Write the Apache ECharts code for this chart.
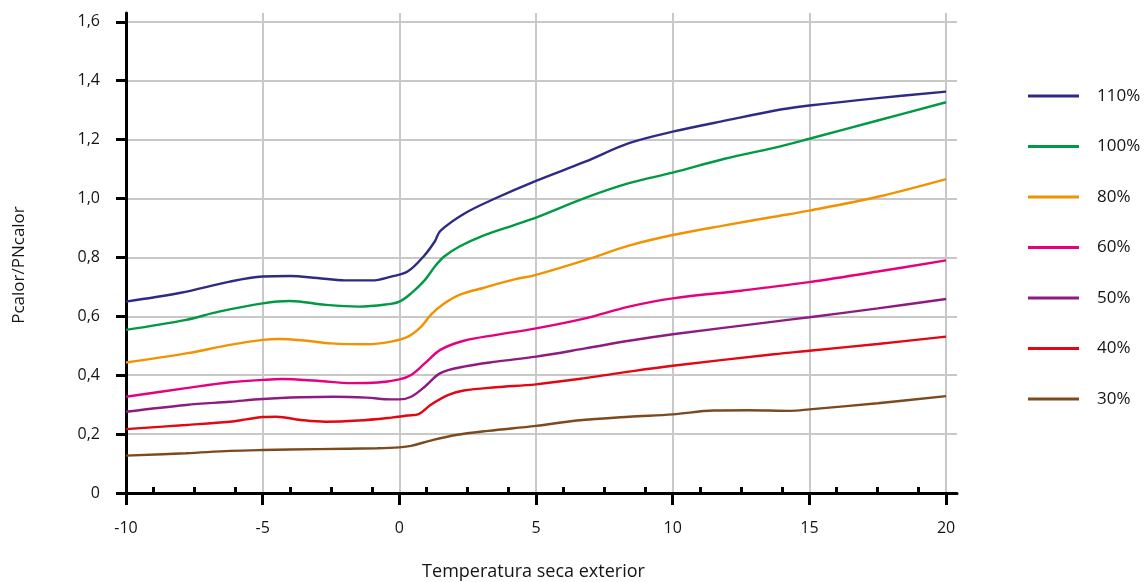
<!DOCTYPE html>
<html>
<head>
<meta charset="utf-8">
<script src="https://cdn.jsdelivr.net/npm/echarts@6/dist/echarts.min.js"></script>
<style>
  html, body { margin: 0; padding: 0; background: #fff; }
  #chart { width: 1146px; height: 582px; }
</style>
</head>
<body>
<div id="chart"></div>
<script>
// ---- data (x = outdoor dry temperature, y = Pcalor/PNcalor) ----
const seriesNames = ['110%', '100%', '80%', '60%', '50%', '40%', '30%'];
const seriesColors = ['#2e2a85', '#009a44', '#f39200', '#e6007e', '#8e1c80', '#e30613', '#7c4a1e'];

const s110 = [[-10,0.650],[-8,0.680],[-6.2,0.718],[-5,0.735],[-4,0.737],[-3,0.730],[-2,0.722],[-1,0.722],[-0.3,0.735],[0.3,0.752],[0.9,0.805],[1.3,0.855],[1.5,0.890],[2.4,0.950],[3.5,1.000],[5,1.060],[6.8,1.125],[8.4,1.188],[10,1.227],[12,1.266],[14,1.303],[15,1.316],[17.5,1.341],[20,1.363]];
const s100 = [[-10,0.554],[-7.8,0.588],[-6.6,0.616],[-5,0.644],[-4,0.652],[-2.7,0.639],[-1.5,0.633],[-0.5,0.640],[0,0.650],[0.43,0.678],[0.93,0.723],[1.3,0.769],[1.64,0.803],[2.2,0.837],[3.07,0.874],[4.2,0.910],[5,0.935],[6.8,1.002],[8.4,1.052],[10,1.088],[11.9,1.135],[13.7,1.172],[15,1.203],[17.5,1.265],[20,1.327]];
const s80  = [[-10,0.443],[-7.8,0.474],[-6.2,0.503],[-5,0.520],[-4.4,0.523],[-3.4,0.517],[-2.5,0.508],[-1.2,0.505],[-0.3,0.514],[0.3,0.530],[0.8,0.565],[1.15,0.605],[1.65,0.644],[2.2,0.673],[3.1,0.697],[4.25,0.726],[5,0.741],[6.8,0.791],[8.4,0.840],[10,0.876],[11.9,0.909],[13.7,0.938],[15,0.959],[17.5,1.006],[20,1.066]];
const s60  = [[-10,0.327],[-7.8,0.356],[-6.2,0.376],[-5,0.384],[-4.3,0.387],[-3,0.381],[-1.75,0.373],[-0.8,0.375],[0,0.386],[0.43,0.401],[0.93,0.440],[1.5,0.486],[2.36,0.517],[3.54,0.537],[5,0.559],[6.8,0.593],[8.4,0.633],[10,0.661],[12.5,0.687],[13.7,0.701],[15,0.716],[17.5,0.752],[20,0.790]];
const s50  = [[-10,0.276],[-7.8,0.299],[-6.2,0.310],[-5,0.319],[-3.6,0.325],[-2.4,0.327],[-1.2,0.324],[-0.3,0.318],[0,0.318],[0.43,0.327],[0.93,0.361],[1.5,0.407],[2.36,0.429],[3.54,0.446],[5,0.463],[6.8,0.491],[8.4,0.517],[10,0.539],[13.7,0.582],[15,0.597],[17.5,0.627],[20,0.659]];
const s40  = [[-10,0.217],[-7.8,0.231],[-6.2,0.242],[-5.6,0.250],[-5,0.258],[-4.5,0.259],[-3.6,0.248],[-2.7,0.242],[-1.5,0.246],[-0.3,0.256],[0.3,0.263],[0.71,0.268],[1.14,0.299],[1.8,0.333],[2.36,0.348],[3.54,0.359],[5,0.369],[6.8,0.390],[8.4,0.412],[10,0.432],[13.7,0.471],[15,0.483],[17.5,0.506],[20,0.531]];
const s30  = [[-10,0.127],[-7.8,0.135],[-6.2,0.143],[-5,0.146],[-3,0.149],[-0.8,0.152],[0,0.155],[0.43,0.160],[1.14,0.178],[2.07,0.197],[3.25,0.211],[5,0.228],[6.5,0.246],[8.4,0.259],[10,0.267],[11.5,0.280],[12.8,0.281],[14.3,0.279],[15,0.284],[17.5,0.305],[20,0.329]];
const seriesData = [s110, s100, s80, s60, s50, s40, s30];

// ---- axis ticks ----
const xMajorTicks = [-10, -5, 0, 5, 10, 15, 20];
const xMinorTicks = [-9, -7.5, -6, -4, -2.5, -1, 1, 2.5, 4, 6, 7.5, 9, 11, 12.5, 14, 16, 17.5, 19];
const yTicks = [0, 0.2, 0.4, 0.6, 0.8, 1.0, 1.2, 1.4, 1.6];

const FONT = '"Open Sans", "Noto Sans", sans-serif';
const TXT = '#141414';

const chart = echarts.init(document.getElementById('chart'), null, { renderer: 'canvas' });
chart.setOption({
  animation: false,
  backgroundColor: '#ffffff',
  textStyle: { fontFamily: FONT },
  grid: { left: 126, right: 189, top: 13, bottom: 89, containLabel: false, outerBoundsMode: 'none' },
  legend: {
    orient: 'vertical',
    left: 1023,
    top: 81,
    icon: 'rect',
    itemWidth: 51,
    itemHeight: 3,
    itemGap: 30.5,
    selectedMode: false,
    textStyle: { fontFamily: FONT, fontSize: 17, color: TXT, lineHeight: 20, padding: [0, 0, 0, 13] },
    data: seriesNames
  },
  xAxis: [{
    type: 'value',
    position: 'bottom',
    min: -10,
    max: 20.4,
    interval: 5,
    name: 'Temperatura seca exterior',
    nameLocation: 'middle',
    nameGap: 70,
    nameTextStyle: { fontFamily: FONT, fontSize: 18, color: TXT, padding: [0, 16, 0, 0] },
    axisLine: { show: true, onZero: false, lineStyle: { color: '#000', width: 3 } },
    axisTick: { show: true, inside: false, length: 12, customValues: xMajorTicks, lineStyle: { color: '#000', width: 3 } },
    axisLabel: { show: true, margin: 27, customValues: xMajorTicks, fontFamily: FONT, fontSize: 16, color: TXT,
                 formatter: v => String(v) },
    splitLine: { show: true, lineStyle: { color: '#c8c8c8', width: 2 } }
  }, {
    type: 'value',
    position: 'bottom',
    min: -10,
    max: 20.4,
    axisLine: { show: false, onZero: false },
    axisTick: { show: true, inside: true, length: 6, customValues: xMinorTicks, lineStyle: { color: '#000', width: 3 } },
    axisLabel: { show: false },
    splitLine: { show: false }
  }],
  yAxis: {
    type: 'value',
    min: 0,
    max: 1.63,
    interval: 0.2,
    name: 'Pcalor/PNcalor',
    nameLocation: 'middle',
    nameGap: 98,
    nameRotate: 90,
    nameTextStyle: { fontFamily: FONT, fontSize: 17, color: TXT, padding: [0, 24, 0, 0] },
    axisLine: { show: true, onZero: false, lineStyle: { color: '#000', width: 3 } },
    axisTick: { show: true, inside: false, length: 10, customValues: yTicks, lineStyle: { color: '#000', width: 3 } },
    axisLabel: { show: true, margin: 26, customValues: yTicks, fontFamily: FONT, fontSize: 16, color: TXT,
                 formatter: v => (v === 0 ? '0' : v.toFixed(1).replace('.', ',')) },
    splitLine: { show: true, lineStyle: { color: '#c8c8c8', width: 2 } }
  },
  series: seriesNames.map((n, i) => ({
    name: n,
    type: 'line',
    xAxisIndex: 0,
    data: seriesData[i],
    smooth: 0.35,
    showSymbol: false,
    symbol: 'none',
    color: seriesColors[i],
    lineStyle: { color: seriesColors[i], width: 2.4 },
    z: 10 - i
  }))
});
</script>
</body>
</html>
